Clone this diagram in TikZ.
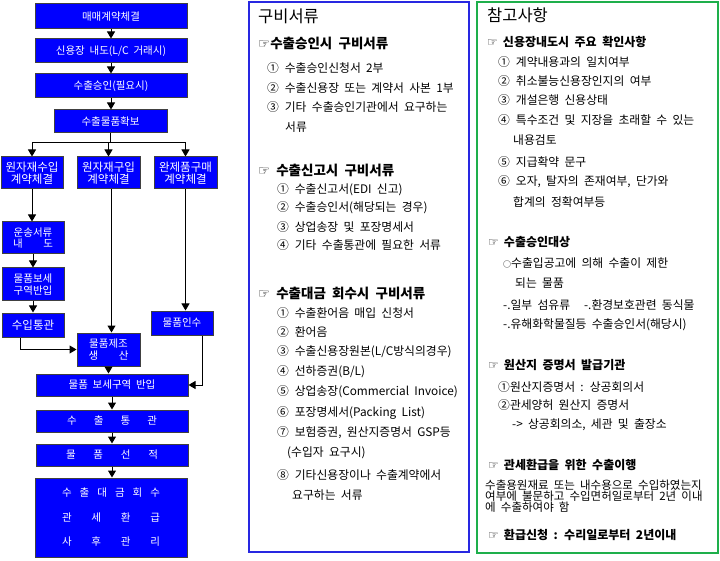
\documentclass[tikz,border=0pt]{standalone}
\usepackage{fontspec}
\setmainfont{Noto Sans CJK KR}[WordSpace=2]
\newfontfamily\symfont{DejaVu Sans}
\usetikzlibrary{arrows.meta}

\definecolor{boxblue}{RGB}{0,0,255}
\definecolor{panelblue}{RGB}{40,40,225}
\definecolor{panelgreen}{RGB}{30,175,75}

\newcommand{\hand}{{\symfont ☞}}
\newcommand{\spread}[2]{\makebox[#1][s]{#2}}
\newcommand{\smallring}{{\fontsize{8}{8}\selectfont ○}}

\tikzset{
	flowbox/.style={draw=black!75, line width=1pt, fill=boxblue, text=white, align=center, inner sep=0pt,
		font=\fontsize{10.5}{11.5}\selectfont},
	bigtext/.style={font=\fontsize{11.5}{11.5}\selectfont},
	arr/.style={line width=1pt, -{Triangle[width=8pt,length=7pt]}},
	txt/.style={anchor=west, inner sep=0pt, font=\fontsize{11.8}{11.8}\selectfont},
	hdr/.style={anchor=west, inner sep=0pt, font=\fontsize{13.5}{14}\selectfont\bfseries},
	hdrsmall/.style={anchor=west, inner sep=0pt, font=\fontsize{12}{12}\selectfont\bfseries},
	title/.style={anchor=west, inner sep=0pt, font=\fontsize{16.5}{16.5}\selectfont}
}

\begin{document}
\begin{tikzpicture}[x=1pt, y=-1pt]
	\useasboundingbox (0,0) rectangle (720,561);

	% flow of export
	\node[flowbox, minimum width=152pt, minimum height=25pt] (contract) at (111,16.5) {매매계약체결};
	\node[flowbox, minimum width=152pt, minimum height=24pt] (lc) at (111,51) {신용장 내도(L/C 거래시)};
	\node[flowbox, minimum width=152pt, minimum height=24pt] (approval) at (111,86) {수출승인(필요시)};
	\node[flowbox, minimum width=113pt, minimum height=23pt] (secure) at (110.5,121.5) {수출물품확보};

	\node[flowbox, bigtext, minimum width=62pt, minimum height=32pt] (rawimp) at (32,173) {원자재수입\\계약체결};
	\node[flowbox, bigtext, minimum width=63pt, minimum height=32pt] (rawbuy) at (108.5,173) {원자재구입\\계약체결};
	\node[flowbox, bigtext, minimum width=63pt, minimum height=32pt] (goodsbuy) at (185.5,173) {완제품구매\\계약체결};

	\node[flowbox, minimum width=62pt, minimum height=32pt] (shipdoc) at (33,238) {운송서류\\\spread{40pt}{내 도}};
	\node[flowbox, minimum width=62pt, minimum height=33pt] (bondin) at (33,284.5) {물품보세\\구역반입};
	\node[flowbox, bigtext, minimum width=62pt, minimum height=24pt] (impclr) at (33,325) {수입통관};
	\node[flowbox, minimum width=63pt, minimum height=33pt] (making) at (108.5,349.5) {물품제조\\\spread{40pt}{생 산}};
	\node[flowbox, minimum width=62pt, minimum height=24pt] (receive) at (182,323) {물품인수};

	\node[flowbox, minimum width=152pt, minimum height=22pt] (bondarea) at (112,385) {물품 보세구역 반입};
	\node[flowbox, minimum width=152pt, minimum height=22pt] (expclr) at (112,421) {\spread{90pt}{수 출 통 관}};
	\node[flowbox, minimum width=152pt, minimum height=22pt] (loading) at (112,455) {\spread{92pt}{물 품 선 적}};
	\node[flowbox, minimum width=152pt, minimum height=79pt, font=\fontsize{10.5}{24.5}\selectfont] (after) at (111,517.5)
		{\spread{98pt}{수 출 대 금 회 수}\\\spread{98pt}{관 세 환 급}\\\spread{98pt}{사 후 관 리}};

	\draw[arr] (contract) -- (lc);
	\draw[arr] (lc) -- (approval);
	\draw[arr] (approval) -- (approval |- secure.north);
	\draw[line width=1pt] (secure.south) -- ++(0,9) coordinate (fork);
	\draw[arr] (fork) -| (rawimp.north);
	\draw[arr] (fork) -| (rawbuy.north);
	\draw[arr] (fork) -| (goodsbuy.north);

	\draw[arr] (rawimp) -- (rawimp |- shipdoc.north);
	\draw[arr] (shipdoc) -- (bondin);
	\draw[arr] (bondin) -- (impclr);
	\draw[arr] ([xshift=-13pt]impclr.south) |- (making.west);
	\draw[arr] ([xshift=3pt]rawbuy.south) -- ([xshift=3pt]making.north);
	\draw[arr] (goodsbuy.south) -- (goodsbuy.south |- receive.north);
	\draw[arr] ([xshift=20pt]receive.south) |- (bondarea.east);
	\draw[arr] (making.south) -- (making.south |- bondarea.north);
	\draw[arr] (bondarea) -- (expclr);
	\draw[arr] (expclr) -- (loading);
	\draw[arr] (loading.south) -- (loading.south |- after.north);

	% documents panel
	\draw[panelblue, line width=1.5pt] (249,2) rectangle (469,552);
	\node[title] (docs) at (258,16) {구비서류};

	\node[hdr] (docsA) at (258,43) {\hand 수출승인시 구비서류};
	\node[txt] (docsA1) at (267,68) {①\enspace 수출승인신청서 2부};
	\node[txt] (docsA2) at (267,88) {②\enspace 수출신용장 또는 계약서 사본 1부};
	\node[txt] (docsA3) at (267,107) {③\enspace 기타 수출승인기관에서 요구하는};
	\node[txt] (docsA3b) at (285,127) {서류};

	\node[hdr] (docsB) at (258,170) {\hand\hspace{6pt}수출신고시 구비서류};
	\node[txt] (docsB1) at (277,190) {①\enspace 수출신고서(EDI 신고)};
	\node[txt] (docsB2) at (277,208) {②\enspace 수출승인서(해당되는 경우)};
	\node[txt] (docsB3) at (277,227) {③\enspace 상업송장 및 포장명세서};
	\node[txt] (docsB4) at (277,245) {④\enspace 기타 수출통관에 필요한 서류};

	\node[hdr] (docsC) at (258,293) {\hand\hspace{6pt}수출대금 회수시 구비서류};
	\node[txt] (docsC1) at (277,313) {①\enspace 수출환어음 매입 신청서};
	\node[txt] (docsC2) at (277,332) {②\enspace 환어음};
	\node[txt] (docsC3) at (277,352) {③\enspace 수출신용장원본(L/C방식의경우)};
	\node[txt] (docsC4) at (277,372) {④\enspace 선하증권(B/L)};
	\node[txt] (docsC5) at (277,392) {⑤\enspace 상업송장(Commercial Invoice)};
	\node[txt] (docsC6) at (277,413) {⑥\enspace 포장명세서(Packing List)};
	\node[txt] (docsC7) at (277,433) {⑦\enspace 보험증권, 원산지증명서 GSP등};
	\node[txt] (docsC7b) at (287,453) {(수입자 요구시)};
	\node[txt] (docsC8) at (277,475) {⑧\enspace 기타신용장이나 수출계약에서};
	\node[txt] (docsC8b) at (292,495) {요구하는 서류};

	% notes panel
	\draw[panelgreen, line width=1.5pt] (477,2) rectangle (718,553);
	\node[title] (notes) at (487,15) {참고사항};

	\node[hdrsmall] (notesA) at (487,42) {\hand\hspace{5pt}신용장내도시 주요 확인사항};
	\node[txt] (notesA1) at (498,62) {①\enspace 계약내용과의 일치여부};
	\node[txt] (notesA2) at (498,81) {②\enspace 취소불능신용장인지의 여부};
	\node[txt] (notesA3) at (498,100) {③\enspace 개설은행 신용상태};
	\node[txt] (notesA4) at (498,120) {④\enspace 특수조건 및 지장을 초래할 수 있는};
	\node[txt] (notesA4b) at (513,140) {내용검토};
	\node[txt] (notesA5) at (498,162) {⑤\enspace 지급확약 문구};
	\node[txt] (notesA6) at (498,182) {⑥\enspace 오자, 탈자의 존재여부, 단가와};
	\node[txt] (notesA6b) at (513,202) {합계의 정확여부등};

	\node[hdrsmall] (notesB) at (488,242) {\hand\hspace{5pt}수출승인대상};
	\node[txt] (notesB1) at (503,263) {\smallring 수출입공고에 의해 수출이 제한};
	\node[txt] (notesB1b) at (515,283) {되는 물품};
	\node[txt] (notesB2) at (503,305) {-.일부 섬유류\hspace{14pt}-.환경보호관련 동식물};
	\node[txt] (notesB3) at (503,325) {-.유해화학물질등 수출승인서(해당시)};

	\node[hdrsmall] (notesC) at (488,365) {\hand\hspace{5pt}원산지 증명서 발급기관};
	\node[txt] (notesC1) at (498,387) {①원산지증명서 : 상공회의서};
	\node[txt] (notesC2) at (498,405) {②관세양허 원산지 증명서};
	\node[txt] (notesC3) at (512,425) {-> 상공회의소, 세관 및 출장소};

	\node[hdrsmall] (notesD) at (488,465) {\hand\hspace{5pt}관세환급을 위한 수출이행};
	\node[txt, align=left, font=\fontsize{11.5}{11}\selectfont] (notesD1) at (485,496)
		{수출용원재료 또는 내수용으로 수입하였는지\\여부에 불문하고 수입면허일로부터 2년 이내\\에 수출하여야 함};

	\node[hdrsmall] (notesE) at (488,535) {\hand\hspace{5pt}환급신청 : 수리일로부터 2년이내};
\end{tikzpicture}
\end{document}
